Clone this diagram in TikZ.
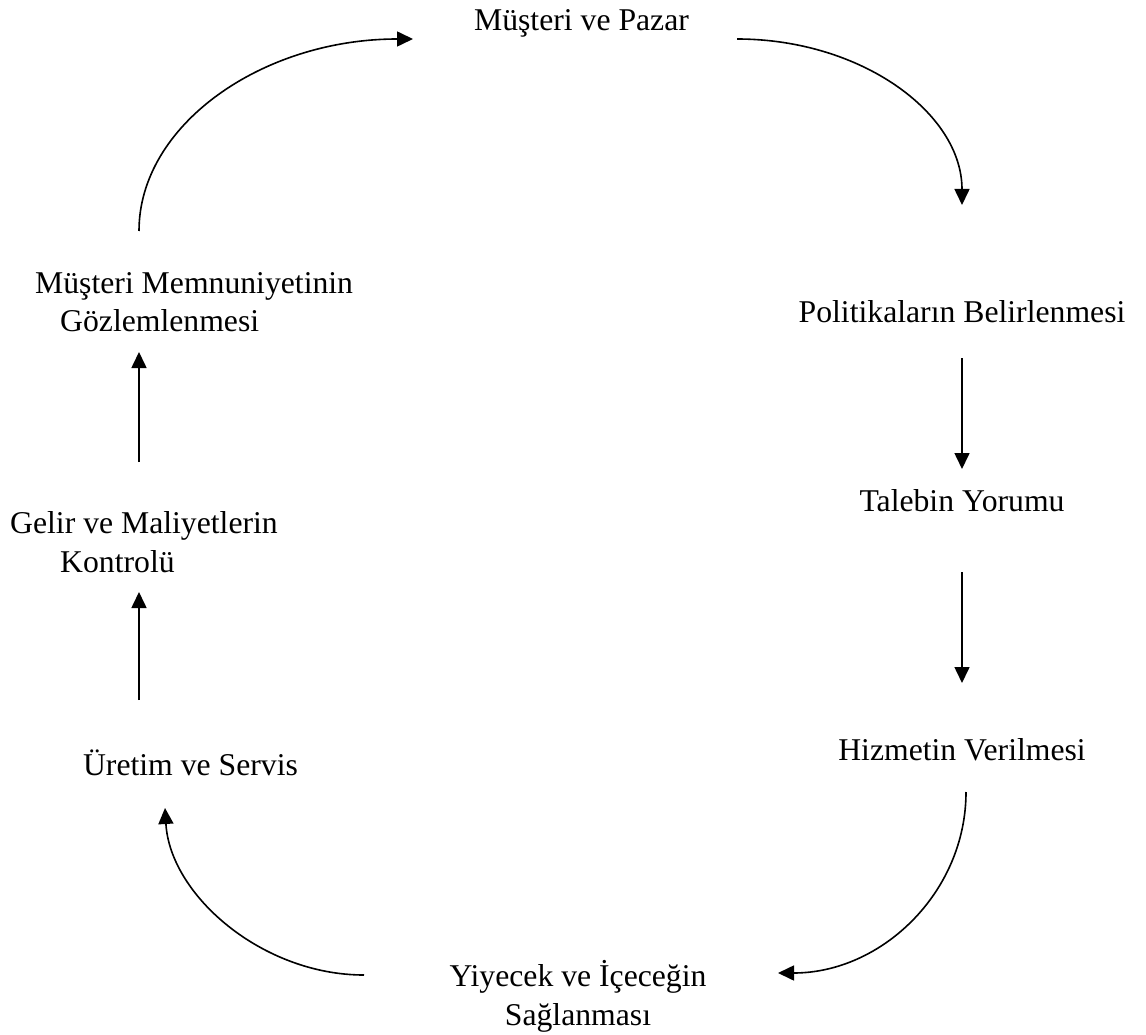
\documentclass[tikz,border=0pt]{standalone}
\usepackage{fontspec}
\setmainfont{Liberation Serif}
\usetikzlibrary{arrows.meta}
\newcommand\twolinec[2]{\vtop{\halign{\hfil##\hfil\cr #1\cr #2\cr}}}
\newcommand\twolinel[3]{\vtop{\hbox{#1}\hbox{\hspace*{#3}#2}}}
\begin{document}
\begin{tikzpicture}[x=1pt,y=-1pt,
  lbl/.style={inner sep=0pt, font=\fontsize{31.7}{39}\selectfont},
  conn/.style={line width=1.6pt, -{Triangle[length=16pt,width=15pt]}}]
\useasboundingbox (0,0) rectangle (1146,1035);
% labels
\node[lbl,anchor=base] (pazar) at (581.5,31) {Müşteri ve Pazar};
\node[lbl,anchor=base] (pol) at (962,322) {Politikaların Belirlenmesi};
\node[lbl,anchor=base] (tal) at (962,511) {Talebin Yorumu};
\node[lbl,anchor=base] (hiz) at (962,760) {Hizmetin Verilmesi};
\node[lbl,anchor=base] (yiy) at (578,986) {\twolinec{Yiyecek ve İçeceğin}{Sağlanması}};
\node[lbl,anchor=base] (ure) at (190.5,775) {Üretim ve Servis};
\node[lbl,anchor=base west] (gel) at (10,533) {\twolinel{Gelir ve Maliyetlerin}{Kontrolü}{50pt}};
\node[lbl,anchor=base west] (mm) at (35,293) {\twolinel{Müşteri Memnuniyetinin}{Gözlemlenmesi}{25pt}};
% connector ends
\coordinate (mmS) at (139,231);
\coordinate (pazW) at (413,39);
\coordinate (pazE) at (737,39);
\coordinate (polN) at (962,205);
\coordinate (polS) at (962,358);
\coordinate (talN) at (962,469);
\coordinate (talS) at (962,572);
\coordinate (hizN) at (962,683);
\coordinate (hizS) at (966,792);
\coordinate (yiyE) at (778,973);
\coordinate (yiyW) at (364,975);
\coordinate (ureS) at (165,808);
\coordinate (ureN) at (139,700);
\coordinate (gelS) at (139,592);
\coordinate (gelN) at (139,462);
\coordinate (mmB) at (139,352);
% connectors
\draw[conn] (mmS) .. controls (139,125) and (262,39) .. (pazW);
\draw[conn] (pazE) .. controls (861,39) and (962,113) .. (polN);
\draw[conn] (polS) -- (talN);
\draw[conn] (talS) -- (hizN);
\draw[conn] (hizS) .. controls (966,892) and (882,973) .. (yiyE);
\draw[conn] (yiyW) .. controls (262,975) and (170,895) .. (ureS);
\draw[conn] (ureN) -- (gelS);
\draw[conn] (gelN) -- (mmB);
\end{tikzpicture}
\end{document}
